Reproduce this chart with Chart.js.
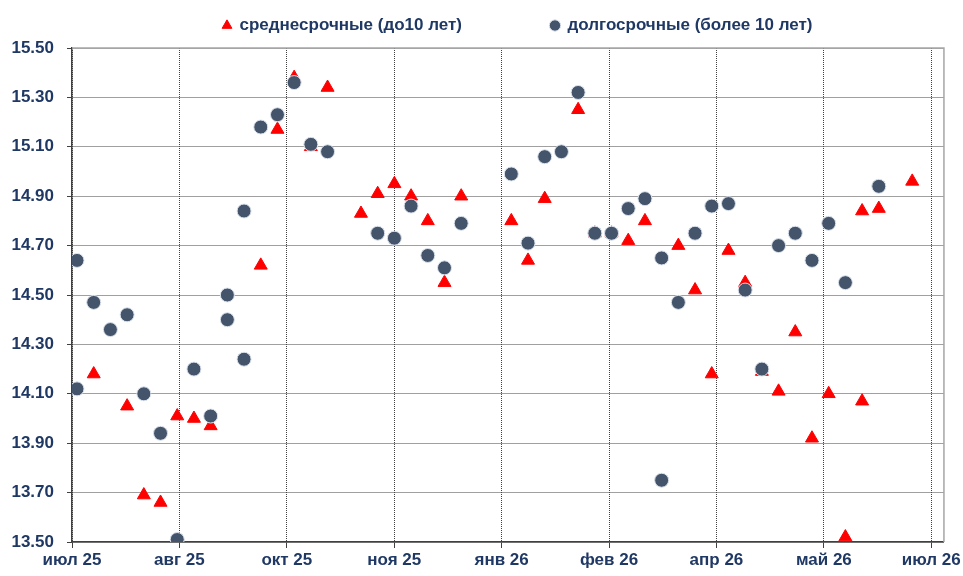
<!DOCTYPE html>
<html lang="ru">
<head>
<meta charset="utf-8">
<title>Доходности</title>
<script src="https://cdn.jsdelivr.net/npm/chart.js@4.4.1/dist/chart.umd.min.js"></script>
<style>
    html, body { margin: 0; padding: 0; background: #ffffff; }
    #wrap { width: 963px; height: 576px; }
</style>
</head>
<body>
<div id="wrap"><canvas id="yieldChart" width="963" height="576"></canvas></div>
<script>
// --- Data ---
const seriesNames = ['среднесрочные (до10 лет)', 'долгосрочные (более 10 лет)'];

// week number of each placement and its yield, %
const midWeek = [1, 3, 4, 5, 6, 7, 8, 11, 12, 13, 14, 15, 17, 18, 19, 20, 21, 22, 23, 26, 27, 28, 30, 31, 32,
    33, 34, 36, 37, 38, 39, 40, 41, 42, 43, 44, 45, 46, 47, 47, 48, 50];
const midYield = [14.18, 14.05, 13.69, 13.66, 14.01, 14.00, 13.97, 14.62, 15.17, 15.38, 15.10, 15.34, 14.83, 14.91,
    14.95, 14.90, 14.80, 14.55, 14.90, 14.80, 14.64, 14.89, 15.25, 14.75, 14.75, 14.72, 14.80, 14.70, 14.52, 14.18,
    14.68, 14.55, 14.19, 14.11, 14.35, 13.92, 14.10, 13.52, 14.84, 14.07, 14.85, 14.96];

const longWeek = [0, 0, 1, 2, 3, 4, 5, 6, 7, 8, 9, 9, 10, 10, 11, 12, 13, 14, 15, 18, 19, 20, 21, 22, 23, 26, 27,
    28, 29, 30, 31, 32, 33, 34, 35, 35, 36, 37, 38, 39, 40, 41, 42, 43, 44, 45, 46, 48];
const longYield = [14.64, 14.12, 14.47, 14.36, 14.42, 14.10, 13.94, 13.51, 14.20, 14.01, 14.50, 14.40, 14.84, 14.24,
    15.18, 15.23, 15.36, 15.11, 15.08, 14.75, 14.73, 14.86, 14.66, 14.61, 14.79, 14.99, 14.71, 15.06, 15.08, 15.32,
    14.75, 14.75, 14.85, 14.89, 14.65, 13.75, 14.47, 14.75, 14.86, 14.87, 14.52, 14.20, 14.70, 14.75, 14.64, 14.79,
    14.55, 14.94];

const xTickLabels = ['июл 25', 'авг 25', 'окт 25', 'ноя 25', 'янв 26', 'фев 26', 'апр 26', 'май 26', 'июл 26'];
const xTickWeeks = [-0.3, 6.13, 12.56, 18.99, 25.42, 31.85, 38.28, 44.71, 51.14];
const yTicks = [13.5, 13.7, 13.9, 14.1, 14.3, 14.5, 14.7, 14.9, 15.1, 15.3, 15.5];

// --- Style ---
const navy = '#1F3864';
const slate = '#44546A';
const red = '#FF0000';
const axisDark = '#404040';
const gridGrey = '#404040';

Chart.defaults.font.family = "'Liberation Sans', Arial, sans-serif";
Chart.defaults.font.weight = 'bold';
Chart.defaults.color = navy;

const toPoints = (xs, ys) => xs.map((x, i) => ({ x: x, y: ys[i] }));

// grey frame on top / right of the plot, like the Excel plot area
const plotFrame = {
    id: 'plotFrame',
    beforeDatasetsDraw(chart) {
        const { ctx, chartArea: a } = chart;
        ctx.save();
        ctx.strokeStyle = '#A6A6A6';
        ctx.lineWidth = 1.5;
        ctx.beginPath();
        ctx.moveTo(a.left, a.top);
        ctx.lineTo(a.right, a.top);
        ctx.lineTo(a.right, a.bottom);
        ctx.stroke();
        ctx.restore();
    }
};

// put the legend where the original has it
const legendPlace = {
    id: 'legendPlace',
    afterLayout(chart) {
        const lg = chart.legend;
        if (!lg || !lg.lineWidths) return;
        const pad = lg.options.labels.padding;
        const start = (lg.left + pad + lg.right - lg.lineWidths[0]) / 2;
        const dx = 223 - start;
        lg.left += dx;
        lg.right += dx;
        lg.top -= 4;
        lg.bottom -= 4;
    }
};

const legendGap = 89;

new Chart(document.getElementById('yieldChart'), {
    type: 'scatter',
    data: {
        datasets: [
            {
                label: seriesNames[0],
                data: toPoints(midWeek, midYield),
                pointStyle: 'triangle',
                pointRadius: 7.5,
                pointHoverRadius: 7.5,
                backgroundColor: red,
                borderColor: red,
                borderWidth: 1,
                order: 2
            },
            {
                label: seriesNames[1],
                data: toPoints(longWeek, longYield),
                pointStyle: 'circle',
                pointRadius: 7,
                pointHoverRadius: 7,
                backgroundColor: slate,
                borderColor: '#DCE3EE',
                borderWidth: 1,
                order: 1
            }
        ]
    },
    options: {
        responsive: false,
        animation: false,
        layout: { padding: { top: 21 - legendGap, right: 18, bottom: 0, left: 0 } },
        plugins: {
            tooltip: { enabled: false },
            legend: {
                position: 'top',
                labels: {
                    usePointStyle: true,
                    boxWidth: 8,
                    boxHeight: 8,
                    padding: legendGap,
                    color: navy,
                    font: { size: 17, weight: 'bold' },
                    sort: (a, b) => a.datasetIndex - b.datasetIndex
                }
            }
        },
        scales: {
            x: {
                type: 'linear',
                min: -0.3,
                max: 51.9,
                afterBuildTicks: (scale) => {
                    scale.ticks = xTickWeeks.map(v => ({ value: v }));
                },
                afterFit: (scale) => { scale.height = 34; },
                ticks: {
                    autoSkip: false,
                    maxRotation: 0,
                    padding: 2,
                    color: navy,
                    font: { size: 17, weight: 'bold' },
                    callback: (v, i) => xTickLabels[i]
                },
                grid: {
                    color: gridGrey,
                    lineWidth: 1,
                    tickLength: 6,
                    tickColor: axisDark,
                    tickBorderDash: []
                },
                border: { color: axisDark, width: 1.5, dash: [1, 1] }
            },
            y: {
                min: 13.5,
                max: 15.5,
                afterBuildTicks: (scale) => {
                    scale.ticks = yTicks.map(v => ({ value: v }));
                },
                afterFit: (scale) => { scale.width = 72; },
                ticks: {
                    padding: 13,
                    color: navy,
                    font: { size: 17, weight: 'bold' },
                    callback: (v) => Number(v).toFixed(2)
                },
                grid: {
                    color: gridGrey,
                    lineWidth: 1,
                    tickLength: 5,
                    tickColor: axisDark,
                    tickBorderDash: []
                },
                border: { color: axisDark, width: 1.5, dash: [1, 1] }
            }
        }
    },
    plugins: [plotFrame, legendPlace]
});
</script>
</body>
</html>
